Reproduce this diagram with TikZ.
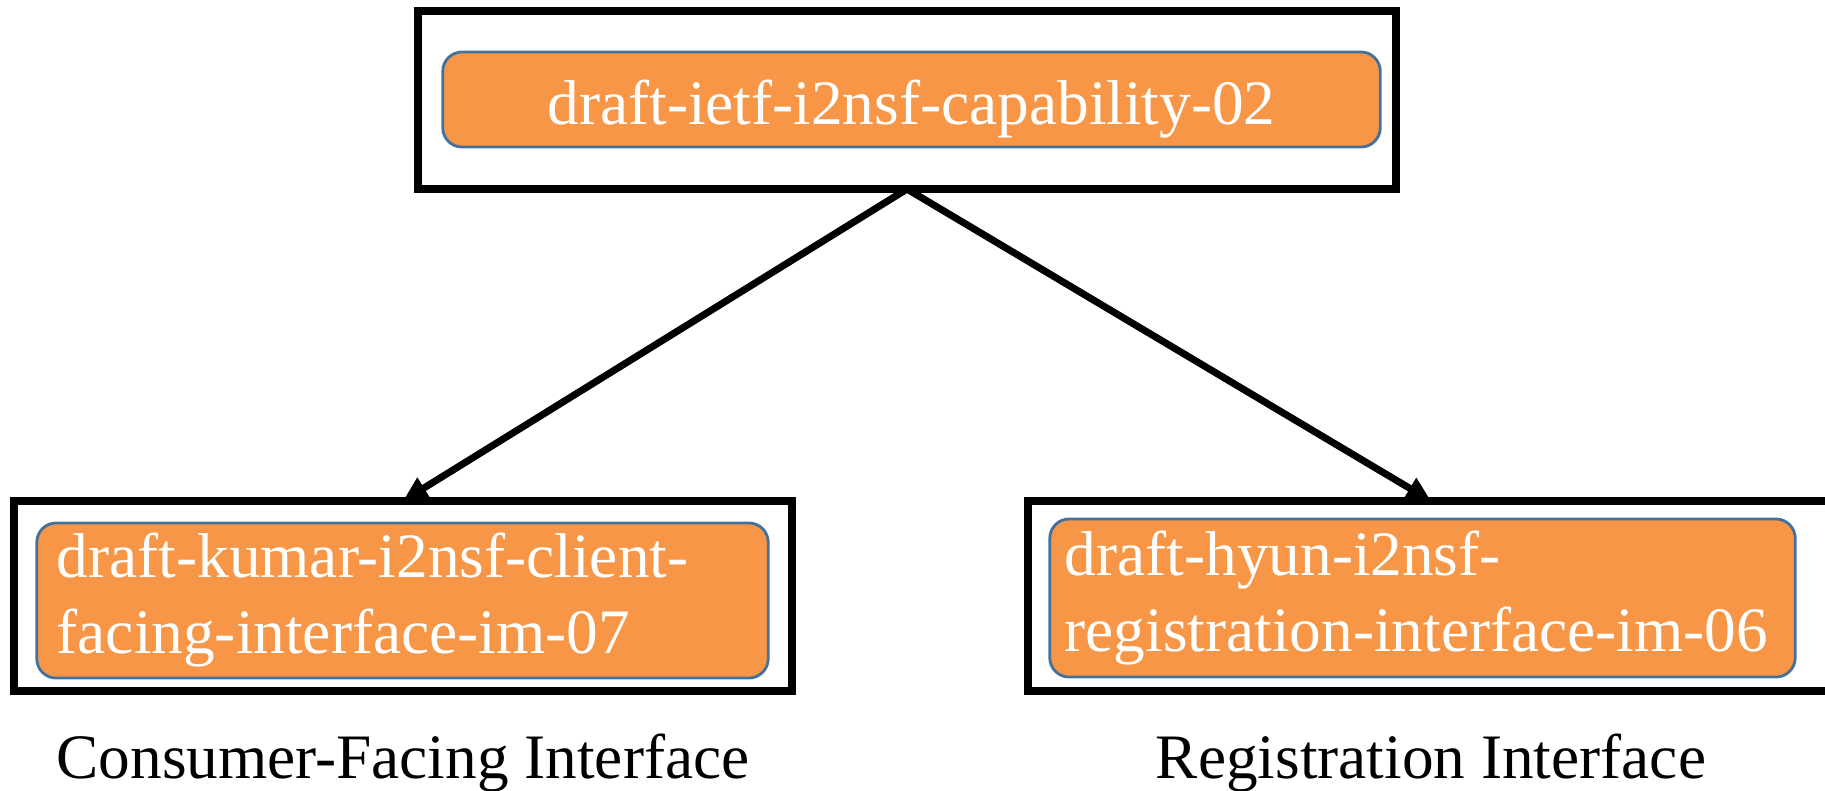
\documentclass[tikz,border=0pt]{standalone}
\usepackage{fontspec}
\setmainfont{Liberation Serif}
\usetikzlibrary{arrows.meta,positioning}
\definecolor{draftorange}{HTML}{F79646}
\definecolor{draftblue}{HTML}{41719C}

\begin{document}
\begin{tikzpicture}[x=0.01cm,y=-0.01cm,
    font=\fontsize{18pt}{21.6pt}\selectfont,
    frame/.style={draw=black,line width=2.3pt,outer sep=0pt,inner sep=0pt},
    draft/.style={draw=draftblue,line width=0.8pt,fill=draftorange,rounded corners=5.5pt,
      text=white,inner ysep=0pt,outer sep=0pt},
    link/.style={line width=2pt,-{Triangle[length=7pt,width=6.6pt]}}]
  \useasboundingbox (0,0) rectangle (1825,790);

  % capability draft
  \node[frame,minimum width=9.78cm,minimum height=1.78cm] (capability) at (907,100) {};
  \node[draft,minimum width=9.37cm,minimum height=0.95cm,text height=14.2pt,text depth=0pt]
    (capability_draft) at (911.5,99.5) {draft-ietf-i2nsf-capability-02};

  % interface drafts
  \node[frame,minimum width=7.78cm,minimum height=1.90cm] (consumer) at (403,596) {};
  \node[draft,minimum width=7.31cm,minimum height=1.55cm,inner xsep=2mm,text width=6.91cm,align=left]
    (consumer_draft) at (402.5,600.5) {draft-kumar-i2nsf-client-\\facing-interface-im-07};

  \node[frame,minimum width=8.06cm,minimum height=1.90cm] (registration) at (1431,596) {};
  \node[draft,minimum width=7.45cm,minimum height=1.58cm,inner xsep=1.5mm,text width=7.15cm,align=left]
    (registration_draft) at (1422.5,598) {draft-hyun-i2nsf-\\registration-interface-im-06};

  \node[below=0.30cm of consumer] (consumer_label) {Consumer-Facing Interface};
  \node[below=0.30cm of registration] (registration_label) {Registration Interface};

  \draw[link] (capability.south) -- (consumer.north);
  \draw[link] (capability.south) -- (registration.north);
\end{tikzpicture}
\end{document}
